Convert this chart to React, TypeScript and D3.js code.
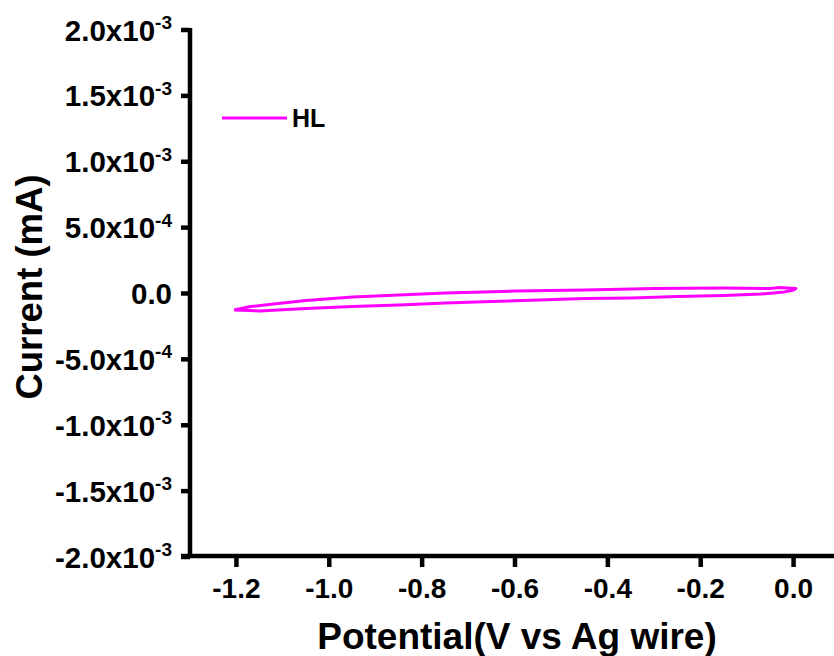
import React from "react";
import * as d3 from "d3";

// Potential (V vs Ag wire) and current (mA) along the CV loop
const potential = [
  -1.205, -1.15, -1.05, -0.95, -0.85, -0.75, -0.65, -0.55, -0.45, -0.35, -0.25, -0.15, -0.07, -0.02, 0.0,
  0.005, -0.03, -0.05, -0.15, -0.3, -0.45, -0.6, -0.75, -0.85, -0.95, -1.05, -1.12, -1.17, -1.205,
];
const current = [
  -1.25e-4, -1.33e-4, -1.14e-4, -0.99e-4, -0.87e-4, -0.72e-4, -0.61e-4, -0.49e-4, -0.38e-4, -0.34e-4, -0.23e-4, -0.15e-4, -0.04e-4, 0.11e-4, 0.27e-4,
  0.38e-4, 0.46e-4, 0.38e-4, 0.42e-4, 0.38e-4, 0.27e-4, 0.19e-4, 0.04e-4, -0.11e-4, -0.27e-4, -0.53e-4, -0.8e-4, -0.99e-4, -1.25e-4,
];

const xTicks = [-1.2, -1.0, -0.8, -0.6, -0.4, -0.2, 0.0];
const xTickLabels = ["-1.2", "-1.0", "-0.8", "-0.6", "-0.4", "-0.2", "0.0"];
const yTicks = [2e-3, 1.5e-3, 1e-3, 5e-4, 0, -5e-4, -1e-3, -1.5e-3, -2e-3];
const yTickMain = ["2.0x10", "1.5x10", "1.0x10", "5.0x10", "0.0", "-5.0x10", "-1.0x10", "-1.5x10", "-2.0x10"];
const yTickExp = ["-3", "-3", "-3", "-4", "", "-4", "-3", "-3", "-3"];

const seriesName = "HL";
const color = "#ff00ff";
const font = "'Liberation Sans', Arial, sans-serif";

export default function App() {
  const W = 834, H = 656;
  const x = d3.scaleLinear().domain([-1.3, 0.1]).range([190, 840]);
  const y = d3.scaleLinear().domain([-2e-3, 2e-3]).range([557, 30]);
  const pts = potential.map((v, i) => [v, current[i]] as [number, number]);
  const line = d3
    .line<[number, number]>()
    .x((d) => x(d[0]))
    .y((d) => y(d[1]));

  const axisY = y(-2e-3) - 1;
  return (
    <svg
      width={W}
      height={H}
      style={{ position: "absolute", left: 0, top: 0, background: "#fff" }}
      fontFamily={font}
    >
      <rect width={W} height={H} fill="#fff" />
      {/* data */}
      <path d={line(pts) || ""} fill="none" stroke={color} strokeWidth={3} strokeLinejoin="round" />

      {/* y axis */}
      <line x1={x(-1.3)} x2={x(-1.3)} y1={y(2e-3) - 2} y2={axisY + 2} stroke="#000" strokeWidth={4.5} />
      {yTicks.map((t, i) => (
        <g key={"yt" + i}>
          <line x1={x(-1.3) - 9} x2={x(-1.3)} y1={y(t)} y2={y(t)} stroke="#000" strokeWidth={4.5} />
          <text
            x={172}
            y={y(t) + 10.5}
            textAnchor="end"
            fontSize={29.5}
            fontWeight="bold"
            fill="#000"
          >
            {yTickMain[i]}
            {yTickExp[i] ? (
              <tspan fontSize={19} dy={-11.5}>
                {yTickExp[i]}
              </tspan>
            ) : null}
          </text>
        </g>
      ))}

      {/* x axis */}
      <line x1={x(-1.3) - 9} x2={W + 10} y1={axisY} y2={axisY} stroke="#000" strokeWidth={4.5} />
      {xTicks.map((t, i) => (
        <g key={"xt" + i}>
          <line x1={x(t)} x2={x(t)} y1={axisY} y2={axisY + 11} stroke="#000" strokeWidth={4.5} />
          <text x={x(t)} y={598} textAnchor="middle" fontSize={28} fontWeight="bold" fill="#000">
            {xTickLabels[i]}
          </text>
        </g>
      ))}

      {/* titles */}
      <text x={517} y={649} textAnchor="middle" fontSize={37} fontWeight="bold" fill="#000">
        Potential(V vs Ag wire)
      </text>
      <text
        transform={`translate(42,287) rotate(-90)`}
        textAnchor="middle"
        fontSize={36.5}
        fontWeight="bold"
        fill="#000"
      >
        Current (mA)
      </text>

      {/* legend */}
      <line x1={222} x2={287} y1={118} y2={118} stroke={color} strokeWidth={3} />
      <text x={292} y={127} fontSize={25} fontWeight="bold" fill="#000">
        {seriesName}
      </text>
    </svg>
  );
}
